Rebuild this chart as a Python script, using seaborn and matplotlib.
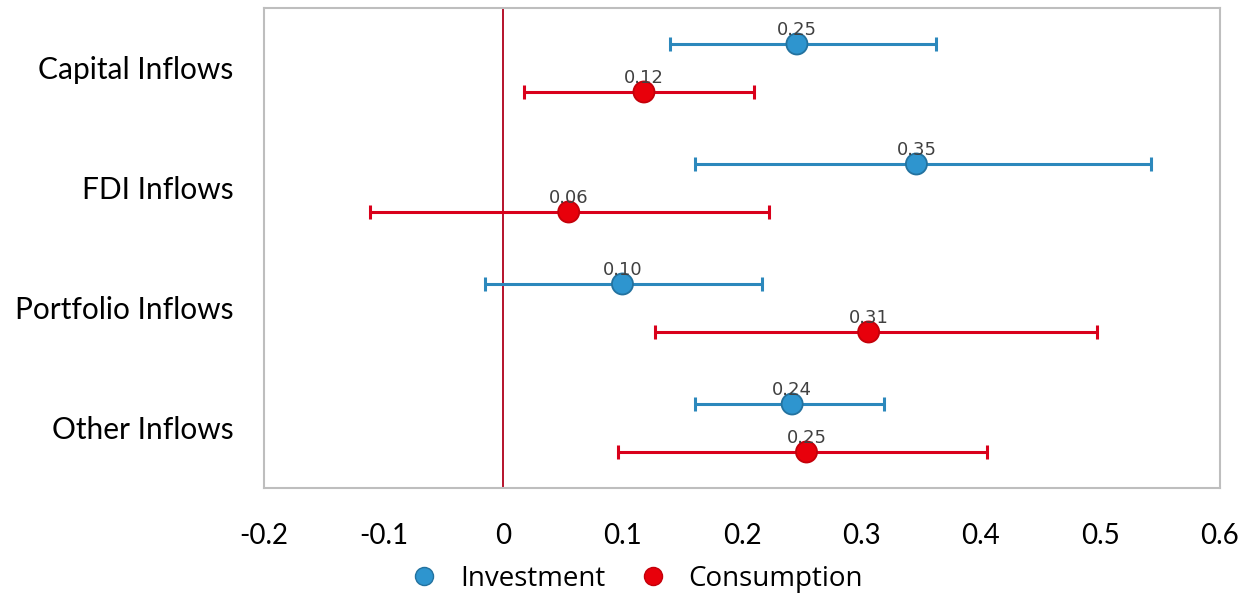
import numpy as np
import pandas as pd
import matplotlib
matplotlib.use("Agg")
import matplotlib.pyplot as plt
import seaborn as sns
from matplotlib.lines import Line2D

# Estimated coefficients with confidence bounds, by inflow type
categories = ["Capital Inflows", "FDI Inflows", "Portfolio Inflows", "Other Inflows"]
investment_est = [0.246, 0.346, 0.100, 0.242]
investment_low = [0.140, 0.161, -0.015, 0.161]
investment_high = [0.362, 0.542, 0.217, 0.319]
consumption_est = [0.118, 0.055, 0.306, 0.254]
consumption_low = [0.018, -0.111, 0.127, 0.096]
consumption_high = [0.210, 0.223, 0.497, 0.405]
x_ticks = [-0.2, -0.1, 0, 0.1, 0.2, 0.3, 0.4, 0.5, 0.6]
x_tick_labels = ["-0.2", "-0.1", "0", "0.1", "0.2", "0.3", "0.4", "0.5", "0.6"]

sns.set_theme(style="white")
plt.rcParams["font.family"] = ["Lato", "DejaVu Sans"]
plt.rcParams["text.color"] = "black"
plt.rcParams["xtick.color"] = "black"
plt.rcParams["ytick.color"] = "black"

rows = []
for i, cat in enumerate(categories):
    rows.append(dict(category=cat, pos=i - 0.2, series="Investment",
                     est=investment_est[i], low=investment_low[i], high=investment_high[i]))
    rows.append(dict(category=cat, pos=i + 0.2, series="Consumption",
                     est=consumption_est[i], low=consumption_low[i], high=consumption_high[i]))
df = pd.DataFrame(rows)

palette = {"Investment": "#2E95CF", "Consumption": "#E8000B"}
bar_colors = {"Investment": "#2C88BC", "Consumption": "#D9001B"}
edge_colors = {"Investment": "#23729F", "Consumption": "#C4000A"}

fig, ax = plt.subplots(figsize=(12.47, 6.0), dpi=100)
fig.subplots_adjust(left=0.2117, right=0.9783, top=0.9867, bottom=0.1867)

ax.axvline(0, color="#B0001A", lw=1.3, zorder=1)

for name, sub in df.groupby("series", sort=False):
    ax.errorbar(sub["est"], sub["pos"],
                xerr=[sub["est"] - sub["low"], sub["high"] - sub["est"]],
                fmt="none", ecolor=bar_colors[name], elinewidth=2.2,
                capsize=5, capthick=2.2, zorder=2)

sns.scatterplot(data=df, x="est", y="pos", hue="series", palette=palette,
                s=230, linewidth=1.3, legend=False, ax=ax, zorder=3,
                edgecolor=[edge_colors[s] for s in df["series"]])

for _, r in df.iterrows():
    ax.annotate(f"{r['est']:.2f}", (r["est"], r["pos"]), xytext=(0, 3.5),
                textcoords="offset points", ha="center", va="bottom",
                fontsize=13, color="#404040", family="DejaVu Sans", zorder=4)

ax.set_xlim(-0.2, 0.6)
ax.set_ylim(3.5, -0.5)
ax.set_xticks(x_ticks)
ax.set_xticklabels(x_tick_labels, fontsize=20)
ax.set_yticks(range(len(categories)))
ax.set_yticklabels(categories, fontsize=21.5)
ax.tick_params(axis="x", length=0, pad=25)
ax.tick_params(axis="y", length=0, pad=22)
ax.set_xlabel("")
ax.set_ylabel("")
for sp in ax.spines.values():
    sp.set_color("#BEBEBE")
    sp.set_linewidth(1.5)

handles = [Line2D([], [], marker="o", ls="none", markersize=13,
                  markerfacecolor=palette[k], markeredgecolor=edge_colors[k],
                  label=k) for k in ["Investment", "Consumption"]]
fig.legend(handles=handles, loc="center", bbox_to_anchor=(0.505, 0.035), ncol=2,
           frameon=False, handletextpad=0.3, columnspacing=0.7,
           prop={"family": "Open Sans", "size": 20})

fig.savefig("out.png", dpi=100)
